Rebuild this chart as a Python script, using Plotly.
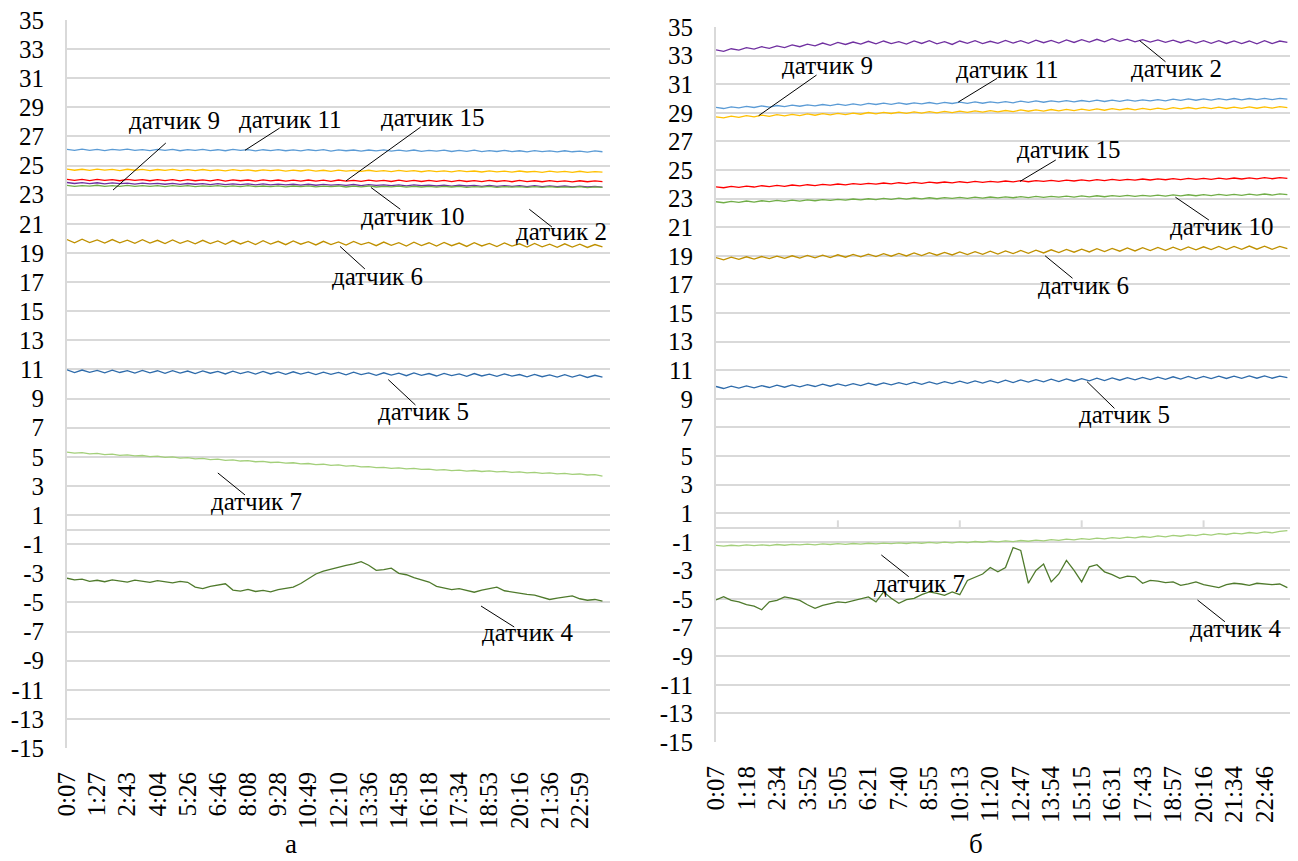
import plotly.graph_objects as go

# ---------------- tick labels (time of day) ----------------
ticks_a = ["0:07", "1:27", "2:43", "4:04", "5:26", "6:46", "8:08", "9:28", "10:49",
           "12:10", "13:36", "14:58", "16:18", "17:34", "18:53", "20:16", "21:36", "22:59"]
ticks_b = ["0:07", "1:18", "2:34", "3:52", "5:05", "6:21", "7:40", "8:55", "10:13", "11:20",
           "12:47", "13:54", "15:15", "16:31", "17:43", "18:57", "20:16", "21:34", "22:46"]
y_ticks = [-15, -13, -11, -9, -7, -5, -3, -1, 1, 3, 5, 7, 9, 11, 13, 15, 17, 19, 21, 23, 25, 27, 29, 31, 33, 35]
LABEL_STEP = 4  # samples between two time labels

# ---------------- panel а : sensor readings ----------------
a_s11 = [26.12,26.04,26.13,26.05,26.11,26.03,26.12,26.06,26.13,26.04,26.10,26.03,26.12,26.05,26.11,26.02,26.10,26.04,26.12,26.03,
         26.09,26.02,26.11,26.04,26.10,26.01,26.09,26.03,26.10,26.02,26.08,26.01,26.09,26.03,26.10,26.00,26.08,26.02,26.07,25.99,
         26.07,26.01,26.08,25.99,26.06,26.00,26.07,25.98,26.05,25.99,26.06,25.97,26.04,25.98,26.06,25.96,26.03,25.97,26.05,25.96,
         26.02,25.95,26.03,25.96,26.01,25.94,26.02,25.95,26.00,25.93,26.01,25.95]
a_s9 = [24.76,24.68,24.75,24.67,24.76,24.69,24.74,24.66,24.75,24.68,24.74,24.65,24.73,24.67,24.74,24.66,24.72,24.65,24.73,24.66,
        24.71,24.64,24.72,24.65,24.70,24.63,24.71,24.65,24.70,24.62,24.69,24.63,24.70,24.62,24.68,24.61,24.69,24.62,24.67,24.60,
        24.68,24.61,24.66,24.59,24.67,24.60,24.65,24.58,24.66,24.59,24.64,24.57,24.65,24.58,24.63,24.56,24.64,24.57,24.62,24.55,
        24.63,24.56,24.61,24.54,24.62,24.55,24.60,24.53,24.61,24.54,24.59,24.55]
a_s15 = [24.05,23.98,24.06,23.97,24.05,23.99,24.04,23.96,24.05,23.98,24.04,23.96,24.03,23.97,24.04,23.95,24.03,23.96,24.02,23.95,
         24.03,23.94,24.02,23.96,24.01,23.94,24.02,23.95,24.01,23.93,24.00,23.94,24.01,23.93,24.00,23.92,24.01,23.94,23.99,23.92,
         24.00,23.93,23.99,23.91,24.00,23.92,23.98,23.91,23.99,23.92,23.98,23.90,23.99,23.91,23.97,23.90,23.98,23.91,23.97,23.89,
         23.98,23.90,23.96,23.89,23.97,23.90,23.95,23.88,23.96,23.89,23.95,23.90]
a_s2 = [23.84,23.77,23.83,23.76,23.82,23.75,23.81,23.76,23.80,23.73,23.79,23.74,23.78,23.72,23.78,23.71,23.77,23.72,23.76,23.70,
        23.76,23.69,23.75,23.70,23.74,23.68,23.74,23.67,23.73,23.68,23.72,23.66,23.72,23.65,23.71,23.66,23.70,23.64,23.70,23.63,
        23.69,23.64,23.68,23.62,23.68,23.61,23.67,23.62,23.66,23.60,23.66,23.59,23.65,23.60,23.64,23.58,23.64,23.57,23.63,23.58,
        23.62,23.56,23.62,23.55,23.61,23.56,23.60,23.54,23.59,23.53,23.58,23.52]
a_s10 = [23.64,23.58,23.63,23.59,23.65,23.57,23.63,23.58,23.64,23.57,23.62,23.58,23.63,23.56,23.62,23.57,23.63,23.56,23.61,23.57,
         23.62,23.55,23.61,23.56,23.62,23.55,23.60,23.56,23.61,23.54,23.60,23.55,23.61,23.54,23.59,23.55,23.60,23.53,23.59,23.54,
         23.60,23.53,23.58,23.54,23.59,23.52,23.58,23.53,23.58,23.52,23.57,23.53,23.58,23.51,23.56,23.52,23.57,23.51,23.56,23.52,
         23.56,23.50,23.55,23.51,23.56,23.50,23.54,23.50,23.55,23.49,23.54,23.50]
a_s6 = [19.92,19.70,19.94,19.71,19.90,19.68,19.92,19.70,19.88,19.66,19.91,19.68,19.87,19.64,19.89,19.66,19.85,19.63,19.87,19.65,
        19.83,19.60,19.85,19.62,19.81,19.58,19.84,19.61,19.80,19.57,19.82,19.60,19.78,19.55,19.80,19.58,19.76,19.54,19.79,19.57,
        19.73,19.50,19.75,19.52,19.71,19.48,19.74,19.51,19.70,19.47,19.72,19.50,19.68,19.45,19.70,19.48,19.66,19.44,19.69,19.47,
        19.63,19.40,19.65,19.42,19.61,19.39,19.63,19.41,19.60,19.38,19.58,19.42]
a_s5 = [10.97,10.79,10.96,10.80,10.94,10.77,10.95,10.79,10.92,10.75,10.93,10.77,10.91,10.73,10.92,10.75,10.89,10.72,10.90,10.74,
        10.86,10.69,10.88,10.71,10.85,10.68,10.86,10.69,10.83,10.66,10.84,10.68,10.81,10.64,10.82,10.66,10.80,10.63,10.81,10.65,
        10.76,10.59,10.77,10.61,10.74,10.57,10.76,10.59,10.72,10.55,10.73,10.57,10.70,10.53,10.72,10.55,10.68,10.52,10.70,10.54,
        10.65,10.49,10.66,10.50,10.63,10.47,10.64,10.48,10.62,10.45,10.60,10.47]
a_s7 = [5.32,5.25,5.28,5.20,5.23,5.15,5.18,5.10,5.13,5.06,5.09,5.01,5.04,4.96,4.99,4.91,4.94,4.86,4.89,4.81,
        4.84,4.76,4.79,4.71,4.74,4.66,4.69,4.61,4.64,4.56,4.59,4.51,4.54,4.46,4.49,4.41,4.44,4.36,4.39,4.31,
        4.32,4.25,4.28,4.21,4.24,4.17,4.20,4.13,4.16,4.09,4.12,4.05,4.09,4.02,4.06,3.99,4.03,3.96,4.00,3.93,
        3.96,3.89,3.93,3.86,3.90,3.83,3.86,3.79,3.82,3.75,3.78,3.68]
a_s4 = [-3.34,-3.45,-3.40,-3.55,-3.48,-3.58,-3.45,-3.52,-3.60,-3.47,
        -3.55,-3.62,-3.50,-3.58,-3.66,-3.55,-3.62,-3.95,-4.05,-3.90,
        -3.80,-3.72,-4.15,-4.22,-4.10,-4.25,-4.18,-4.28,-4.12,-4.05,
        -3.95,-3.70,-3.40,-3.05,-2.85,-2.70,-2.60,-2.45,-2.35,-2.20,
        -2.45,-2.80,-2.75,-2.65,-3.00,-3.10,-3.30,-3.45,-3.60,-3.90,
        -4.00,-4.12,-4.05,-4.20,-4.30,-4.15,-4.05,-3.95,-4.20,-4.30,
        -4.35,-4.45,-4.50,-4.65,-4.80,-4.70,-4.60,-4.55,-4.75,-4.85,-4.80,-4.92]

# ---------------- panel б : sensor readings ----------------
b_s2 = [33.40,33.30,33.48,33.38,33.56,33.45,33.62,33.50,33.68,33.56,33.75,33.62,33.80,33.68,33.88,33.72,33.92,33.78,33.95,33.80,
        34.00,33.82,34.02,33.84,33.98,33.80,34.03,33.85,34.05,33.82,33.98,33.78,34.02,33.86,34.04,33.84,34.00,33.86,34.06,33.88,
        34.05,33.86,34.08,33.90,34.06,33.88,34.10,33.92,34.12,33.94,34.14,33.96,34.18,34.00,34.15,33.96,34.12,33.94,34.10,33.92,
        34.08,33.90,34.06,33.88,34.05,33.86,34.04,33.85,34.03,33.84,34.02,33.82,34.04,33.84,34.02,33.92]
b_s11 = [29.38,29.30,29.42,29.34,29.45,29.37,29.48,29.40,29.51,29.43,29.53,29.46,29.56,29.48,29.58,29.50,29.60,29.52,29.62,29.54,
         29.66,29.58,29.67,29.59,29.69,29.60,29.70,29.62,29.72,29.63,29.73,29.65,29.74,29.66,29.76,29.67,29.77,29.69,29.78,29.70,
         29.82,29.73,29.83,29.74,29.84,29.76,29.85,29.77,29.86,29.78,29.88,29.79,29.89,29.80,29.90,29.82,29.91,29.83,29.92,29.84,
         29.96,29.87,29.97,29.88,29.98,29.89,29.99,29.90,30.00,29.91,30.00,29.92,30.01,29.92,30.01,29.95]
b_s9 = [28.72,28.64,28.76,28.68,28.80,28.72,28.84,28.75,28.87,28.78,28.89,28.81,28.92,28.83,28.94,28.86,28.96,28.88,28.98,28.90,
        29.02,28.93,29.03,28.95,29.05,28.96,29.07,28.98,29.08,29.00,29.10,29.01,29.12,29.03,29.13,29.05,29.15,29.06,29.16,29.08,
        29.20,29.11,29.21,29.12,29.23,29.14,29.24,29.15,29.26,29.17,29.27,29.18,29.29,29.20,29.30,29.21,29.31,29.22,29.33,29.24,
        29.36,29.27,29.37,29.28,29.38,29.29,29.39,29.30,29.40,29.31,29.41,29.32,29.42,29.33,29.43,29.36]
b_s15 = [23.82,23.76,23.85,23.79,23.87,23.81,23.90,23.84,23.92,23.86,23.95,23.89,23.97,23.91,24.00,23.94,24.02,23.96,24.05,23.99,
         24.07,24.01,24.09,24.03,24.11,24.05,24.13,24.07,24.15,24.09,24.16,24.10,24.18,24.12,24.20,24.14,24.21,24.15,24.23,24.17,
         24.25,24.18,24.26,24.20,24.28,24.21,24.29,24.23,24.31,24.24,24.32,24.26,24.34,24.27,24.35,24.29,24.37,24.30,24.38,24.32,
         24.40,24.33,24.41,24.34,24.42,24.35,24.43,24.36,24.44,24.37,24.45,24.38,24.46,24.39,24.47,24.42]
b_s10 = [22.78,22.71,22.80,22.74,22.83,22.76,22.85,22.79,22.87,22.81,22.89,22.83,22.91,22.85,22.93,22.87,22.95,22.89,22.97,22.91,
         22.99,22.93,23.01,22.95,23.03,22.96,23.04,22.98,23.06,22.99,23.07,23.01,23.08,23.02,23.10,23.03,23.11,23.05,23.12,23.06,
         23.14,23.07,23.15,23.09,23.16,23.10,23.17,23.11,23.19,23.12,23.20,23.13,23.21,23.15,23.22,23.16,23.23,23.17,23.24,23.18,
         23.26,23.19,23.27,23.20,23.28,23.21,23.29,23.22,23.30,23.23,23.31,23.24,23.32,23.25,23.33,23.28]
b_s6 = [18.88,18.72,18.90,18.75,18.93,18.77,18.95,18.80,18.98,18.82,19.00,18.84,19.03,18.86,19.05,18.88,19.07,18.90,19.10,18.93,
        19.12,18.95,19.15,18.97,19.17,18.99,19.20,19.01,19.22,19.04,19.24,19.06,19.27,19.08,19.29,19.10,19.32,19.12,19.34,19.15,
        19.37,19.17,19.39,19.20,19.42,19.22,19.45,19.25,19.47,19.27,19.50,19.30,19.52,19.32,19.55,19.34,19.57,19.36,19.58,19.38,
        19.60,19.40,19.62,19.42,19.63,19.43,19.65,19.44,19.66,19.45,19.68,19.46,19.67,19.45,19.66,19.50]
b_s5 = [9.86,9.72,9.88,9.75,9.90,9.77,9.92,9.79,9.95,9.81,9.97,9.84,9.99,9.86,10.02,9.88,10.04,9.90,10.06,9.92,
        10.09,9.95,10.11,9.97,10.13,9.99,10.16,10.01,10.18,10.03,10.20,10.06,10.23,10.08,10.25,10.10,10.27,10.12,10.30,10.14,
        10.32,10.17,10.34,10.19,10.37,10.21,10.39,10.23,10.41,10.26,10.44,10.28,10.46,10.30,10.48,10.32,10.50,10.34,10.52,10.36,
        10.54,10.38,10.56,10.40,10.57,10.41,10.58,10.42,10.59,10.43,10.60,10.44,10.60,10.44,10.59,10.48]
b_s7 = [-1.25,-1.30,-1.24,-1.29,-1.22,-1.27,-1.21,-1.26,-1.19,-1.24,-1.18,-1.22,-1.16,-1.21,-1.15,-1.19,-1.13,-1.18,-1.12,-1.16,
        -1.10,-1.15,-1.09,-1.13,-1.07,-1.12,-1.06,-1.10,-1.04,-1.09,-1.02,-1.07,-1.00,-1.05,-0.98,-1.03,-0.96,-1.01,-0.94,-0.99,
        -0.91,-0.96,-0.88,-0.93,-0.85,-0.90,-0.81,-0.87,-0.78,-0.83,-0.74,-0.80,-0.71,-0.76,-0.67,-0.73,-0.63,-0.69,-0.59,-0.65,
        -0.55,-0.61,-0.51,-0.57,-0.47,-0.53,-0.43,-0.49,-0.39,-0.45,-0.35,-0.41,-0.31,-0.37,-0.27,-0.22]
b_s4 = [-5.07,-4.84,-5.10,-5.20,-5.40,-5.50,-5.75,-5.20,-5.10,-4.85,
        -4.95,-5.10,-5.40,-5.65,-5.45,-5.30,-5.20,-5.25,-5.10,-4.95,
        -4.85,-5.20,-4.50,-4.95,-5.30,-5.05,-4.95,-4.70,-4.50,-4.60,
        -4.75,-4.50,-4.70,-3.70,-3.50,-3.25,-2.80,-3.10,-2.80,-1.40,
        -1.60,-3.90,-3.00,-2.55,-3.80,-3.25,-2.30,-3.00,-3.80,-2.75,
        -2.60,-3.10,-3.30,-3.55,-3.40,-3.45,-3.90,-3.70,-3.75,-3.85,
        -3.80,-4.05,-3.95,-3.80,-4.00,-4.10,-4.20,-4.00,-3.90,-3.95,
        -4.05,-3.90,-3.95,-4.00,-3.95,-4.20]

# ---------------- styles ----------------
COLORS = {
    "s2": "#7030A0", "s4": "#4F7A2C", "s5": "#2E6BAA", "s6": "#BF9000", "s7": "#A3CF7A",
    "s9": "#FFC000", "s10": "#70AD47", "s11": "#5B9BD5", "s15": "#FF0000",
}
FONT = "Liberation Serif"
FS = 25
W, H, OFF = 1290, 853, 8   # figure size; the page body adds an 8 px margin

def px_x(p):
    return (p - OFF) / W

def px_y(p):
    return 1 - (p - OFF) / H

panel_a = {"s11": a_s11, "s9": a_s9, "s15": a_s15, "s2": a_s2, "s10": a_s10,
           "s6": a_s6, "s5": a_s5, "s7": a_s7, "s4": a_s4}
panel_b = {"s2": b_s2, "s11": b_s11, "s9": b_s9, "s15": b_s15, "s10": b_s10,
           "s6": b_s6, "s5": b_s5, "s7": b_s7, "s4": b_s4}

fig = go.Figure()
for key, vals in panel_a.items():
    fig.add_trace(go.Scatter(x=list(range(len(vals))), y=vals, mode="lines",
                             line=dict(color=COLORS[key], width=1.3),
                             xaxis="x", yaxis="y"))
for key, vals in panel_b.items():
    fig.add_trace(go.Scatter(x=list(range(len(vals))), y=vals, mode="lines",
                             line=dict(color=COLORS[key], width=1.3),
                             xaxis="x2", yaxis="y2"))

# label: (axis suffix, text, text x, text y, leader x0, y0, x1, y1) in data units
labels = [
    ("", "датчик 9", 14.3, 28.1, 13.1, 26.55, 6.1, 23.32),
    ("", "датчик 11", 29.7, 28.2, 28.2, 27.58, 23.6, 26.05),
    ("", "датчик 15", 48.4, 28.3, 46.9, 27.65, 37.0, 23.95),
    ("", "датчик 10", 45.8, 21.5, 44.2, 22.0, 40.3, 23.5),
    ("", "датчик 2", 65.6, 20.5, 64.3, 20.78, 61.3, 22.0),
    ("", "датчик 6", 41.2, 17.35, 39.5, 17.9, 36.2, 19.45),
    ("", "датчик 5", 47.3, 8.08, 46.2, 8.56, 42.6, 10.3),
    ("", "датчик 7", 25.1, 1.9, 23.6, 2.38, 20.0, 3.89),
    ("", "датчик 4", 61.0, -7.1, 59.3, -6.69, 54.9, -5.25),
    ("2", "датчик 9", 14.6, 32.34, 13.2, 31.64, 5.6, 28.8),
    ("2", "датчик 11", 38.2, 32.04, 36.9, 31.41, 31.8, 29.75),
    ("2", "датчик 2", 60.5, 32.1, 59.0, 32.57, 55.6, 34.05),
    ("2", "датчик 15", 46.3, 26.4, 44.6, 25.7, 39.9, 24.2),
    ("2", "датчик 10", 66.3, 21.04, 64.7, 21.5, 60.3, 23.1),
    ("2", "датчик 6", 48.2, 16.9, 46.8, 17.43, 43.2, 19.0),
    ("2", "датчик 5", 53.6, 7.87, 52.3, 8.33, 48.7, 10.2),
    ("2", "датчик 7", 26.7, -3.9, 25.3, -3.44, 21.7, -1.92),
    ("2", "датчик 4", 68.2, -7.05, 66.8, -6.59, 63.2, -5.07),
]
for ax, text, tx, ty, x0, y0, x1, y1 in labels:
    fig.add_shape(type="line", xref="x" + ax, yref="y" + ax, x0=x0, y0=y0, x1=x1, y1=y1,
                  line=dict(color="black", width=1))
    fig.add_annotation(xref="x" + ax, yref="y" + ax, x=tx, y=ty, text=text, showarrow=False,
                       font=dict(family=FONT, size=FS, color="black"))

# small tick marks on the horizontal (zero) axis of panel б
for k in range(4, len(ticks_b), 4):
    fig.add_shape(type="line", xref="x2", yref="y2", x0=k * LABEL_STEP, x1=k * LABEL_STEP,
                  y0=0, y1=0.5, line=dict(color="#D9D9D9", width=2))

fig.add_annotation(xref="paper", yref="paper", x=px_x(283), y=0, yanchor="bottom", text="а",
                   showarrow=False, font=dict(family=FONT, size=FS + 2, color="black"))
fig.add_annotation(xref="paper", yref="paper", x=px_x(985), y=0, yanchor="bottom", text="б",
                   showarrow=False, font=dict(family=FONT, size=FS + 2, color="black"))

GRID = "#D9D9D9"
CLEAR = "rgba(0,0,0,0)"
yax = dict(range=[-15, 35], tickmode="array", tickvals=y_ticks, ticktext=[str(v) for v in y_ticks],
           showgrid=True, gridcolor=GRID, gridwidth=2, automargin=False,
           showline=True, linecolor=GRID, linewidth=2, zeroline=True, zerolinecolor=GRID,
           zerolinewidth=2, ticks="outside", ticklen=16, tickcolor=CLEAR,
           ticklabeloverflow="allow",
           tickfont=dict(family=FONT, size=FS, color="black"))
xax = dict(tickangle=-90, showgrid=False, zeroline=False, showline=False,
           ticks="outside", ticklen=13, tickcolor=CLEAR, automargin=False,
           ticklabeloverflow="allow",
           tickfont=dict(family=FONT, size=FS, color="black"))

fig.update_layout(
    width=W, height=H, margin=dict(l=0, r=0, t=0, b=0),
    paper_bgcolor="white", plot_bgcolor="white", showlegend=False,
    font=dict(family=FONT, size=FS, color="black"),
    xaxis=dict(xax, domain=[px_x(67), px_x(610)], range=[0, 72], anchor="y",
               tickvals=[k * LABEL_STEP for k in range(len(ticks_a))], ticktext=ticks_a),
    yaxis=dict(yax, domain=[px_y(748), px_y(20)], anchor="x"),
    xaxis2=dict(xax, domain=[px_x(716), px_x(1295)], range=[0, 76], anchor="y2",
                tickvals=[k * LABEL_STEP for k in range(len(ticks_b))], ticktext=ticks_b),
    yaxis2=dict(yax, domain=[px_y(742), px_y(27)], anchor="x2"),
)

fig.write_html("out.html")
